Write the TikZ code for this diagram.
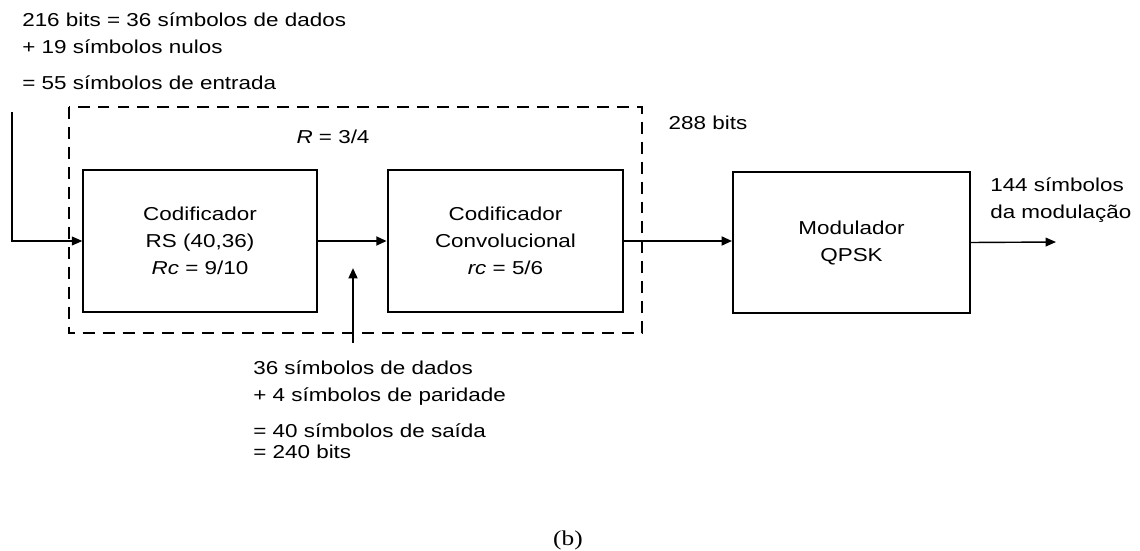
\documentclass[tikz,border=0pt]{standalone}
\usepackage{fontspec}
\setmainfont{Liberation Sans}[FakeStretch=1.2]
\newfontfamily\legendafonte{Liberation Serif}[FakeStretch=1.2]
\usetikzlibrary{arrows.meta}

\begin{document}
\begin{tikzpicture}[
				x=0.025cm, y=-0.025cm,
				font=\fontsize{13.3}{19.2}\selectfont,
				% estilos dos blocos, setas e textos
				bloco/.style={draw, rectangle, align=center, inner sep=0pt},
				seta/.style={->, >={Triangle[length=2.6mm, width=2.2mm]}},
				texto/.style={align=left, inner sep=0pt}
				]
				\useasboundingbox (0,0) rectangle (1140,551);
				
				% ----- 1. Blocos -----
				% codificador RS
				\node[bloco, line width=0.9pt, minimum width=5.85cm, minimum height=3.55cm] (rs) at (200,241)
				{Codificador\\RS (40,36)\\\textit{Rc} = 9/10};
				% codificador convolucional
				\node[bloco, line width=1.8pt, minimum width=5.875cm, minimum height=3.55cm] (conv) at (505.5,241)
				{Codificador\\Convolucional\\\textit{rc} = 5/6};
				% modulador
				\node[bloco, line width=1.3pt, minimum width=5.925cm, minimum height=3.525cm] (mod) at (851.5,242.5)
				{Modulador\\QPSK};
				
				% caixa tracejada (R = 3/4)
				\draw[line width=1.6pt, dash pattern=on 8.5pt off 5.7pt] (69,107) rectangle (642,333);
				\node[texto] (taxa) at (333,137) {\textit{R} = 3/4};
				
				% ----- 2. Setas -----
				\coordinate (entrada) at (12,112);
				\draw[seta, line width=0.9pt] (entrada) |- (rs.west);
				
				\draw[seta, line width=1.6pt] (rs) -- (conv);
				
				\coordinate (paridade) at (353,343);
				\coordinate (paridade-ponta) at (353,268);
				\draw[seta, line width=1.6pt] (paridade) -- (paridade-ponta);
				
				\draw[seta, line width=1.6pt] (conv.east) -- (conv.east -| mod.west);
				
				\coordinate (saida) at (1056,242);
				\draw[seta, line width=1pt] (mod.east) -- (saida);
				
				% ----- 3. Textos -----
				\node[texto, anchor=north west] (entrada-txt) at (22,12)
				{216 bits = 36 símbolos de dados\\+ 19 símbolos nulos\\[6.4pt]= 55 símbolos de entrada};
				
				\node[texto] (bits288) at (708,123) {288 bits};
				
				\node[texto, anchor=west] (saida-txt) at (990,200) {144 símbolos\\da modulação};
				
				\node[texto, anchor=north west] (paridade-txt) at (253,360)
				{36 símbolos de dados\\+ 4 símbolos de paridade\\[6.4pt]= 40 símbolos de saída\\[-4pt]= 240 bits};
				
				\node[font=\legendafonte\fontsize{15}{18}\selectfont] (legenda) at (568,540) {(b)};
				
			\end{tikzpicture}
\end{document}
